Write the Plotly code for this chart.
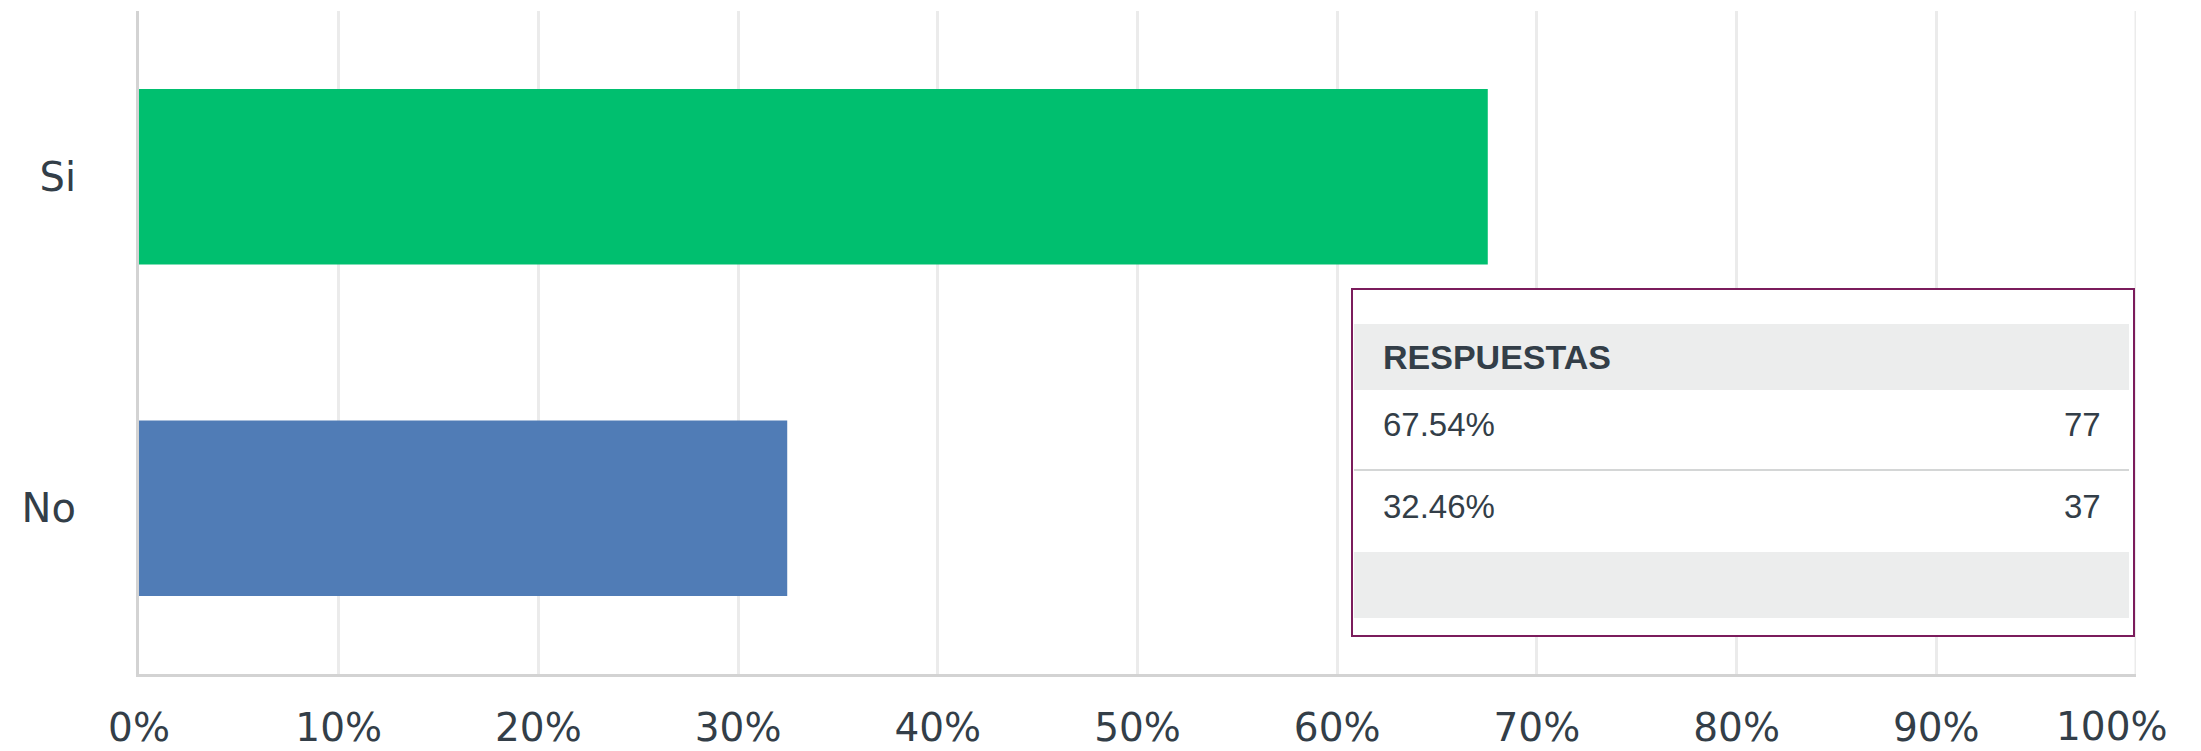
import plotly.graph_objects as go

categories = ["Si", "No"]
percentages = [67.54, 32.46]
counts = [77, 37]
bar_colors = ["#00bf6f", "#507cb6"]
tick_values = [0, 10, 20, 30, 40, 50, 60, 70, 80, 90, 100]
tick_labels = ["0%", "10%", "20%", "30%", "40%", "50%", "60%", "70%", "80%", "90%", "100%"]
table_header = "RESPUESTAS"

# page has an 8px body margin; work in page pixels and convert
OFF = 8
W, H = 2201 - OFF, 751 - OFF
PL, PR, PT, PB = 139, 2136, 11, 674          # plot area in page pixels
L, T = PL - OFF, PT - OFF
R, B = W - (PR - OFF), H - (PB - OFF)
pw, ph = PR - PL, PB - PT

def px(x):
    return (x - PL) / pw

def py(y):
    return (PB - y) / ph

grid_color = "#ebebeb"
text_color = "#333e48"
tick_font = dict(family="DejaVu Sans", size=39, color=text_color)

# the last label is drawn separately, nudged left like the original
shown_ticks = list(tick_labels[:-1]) + [""]

fig = go.Figure()
fig.add_trace(go.Bar(
    y=categories, x=percentages, orientation="h",
    marker=dict(color=bar_colors, line=dict(width=0)),
    hoverinfo="skip", showlegend=False,
))

tfont = "Liberation Sans, Arial"
shapes = []
annotations = []
# gridline at the right end of the axis
shapes.append(dict(type="line", xref="x", yref="paper",
                   x0=tick_values[-1], x1=tick_values[-1], y0=0, y1=1,
                   line=dict(color=grid_color, width=3), layer="below"))
shapes.append(dict(type="rect", xref="paper", yref="paper",
                   x0=px(1352), x1=px(2134), y0=py(636), y1=py(289),
                   line=dict(color="#7b1c5c", width=2), fillcolor="white", layer="above"))
shapes.append(dict(type="rect", xref="paper", yref="paper",
                   x0=px(1354), x1=px(2129), y0=py(390), y1=py(324),
                   line=dict(width=0), fillcolor="#eceded", layer="above"))
shapes.append(dict(type="line", xref="paper", yref="paper",
                   x0=px(1354), x1=px(2129), y0=py(470), y1=py(470),
                   line=dict(color="#d4d6d6", width=2), layer="above"))
shapes.append(dict(type="rect", xref="paper", yref="paper",
                   x0=px(1354), x1=px(2129), y0=py(618), y1=py(552),
                   line=dict(width=0), fillcolor="#eceded", layer="above"))

# last tick label
annotations.append(dict(xref="x", yref="paper", x=tick_values[-1], y=py(726),
                        text=tick_labels[-1], showarrow=False,
                        xanchor="center", yanchor="middle", xshift=-24,
                        font=tick_font))

annotations.append(dict(xref="paper", yref="paper", x=px(1381), y=py(357),
                        text="<b>" + table_header + "</b>", showarrow=False,
                        xanchor="left", yanchor="middle",
                        font=dict(family=tfont, size=34, color=text_color)))
row_y = [424, 506]
for i in range(len(percentages)):
    annotations.append(dict(xref="paper", yref="paper", x=px(1381), y=py(row_y[i]),
                            text=f"{percentages[i]:.2f}%", showarrow=False,
                            xanchor="left", yanchor="middle",
                            font=dict(family=tfont, size=33, color=text_color)))
    annotations.append(dict(xref="paper", yref="paper", x=px(2103), y=py(row_y[i]),
                            text=str(counts[i]), showarrow=False,
                            xanchor="right", yanchor="middle",
                            font=dict(family=tfont, size=33, color=text_color)))

fig.update_layout(
    width=W, height=H,
    margin=dict(l=L, r=R, t=T, b=B, pad=0),
    paper_bgcolor="white", plot_bgcolor="white",
    bargap=0.47,
    shapes=shapes, annotations=annotations,
    xaxis=dict(range=[0, 100], tickvals=tick_values, ticktext=shown_ticks,
               showgrid=True, gridcolor=grid_color, gridwidth=3,
               showline=True, linecolor="#d3d3d3", linewidth=3,
               zeroline=False, ticks="", ticklabelstandoff=17,
               automargin=False,
               tickfont=tick_font,
               fixedrange=True),
    yaxis=dict(autorange="reversed", showgrid=False,
               showline=True, linecolor="#d3d3d3", linewidth=3,
               ticks="", ticklabelstandoff=52, automargin=False,
               tickfont=dict(family="DejaVu Sans", size=40, color=text_color),
               fixedrange=True),
)

fig.write_html("out.html")
